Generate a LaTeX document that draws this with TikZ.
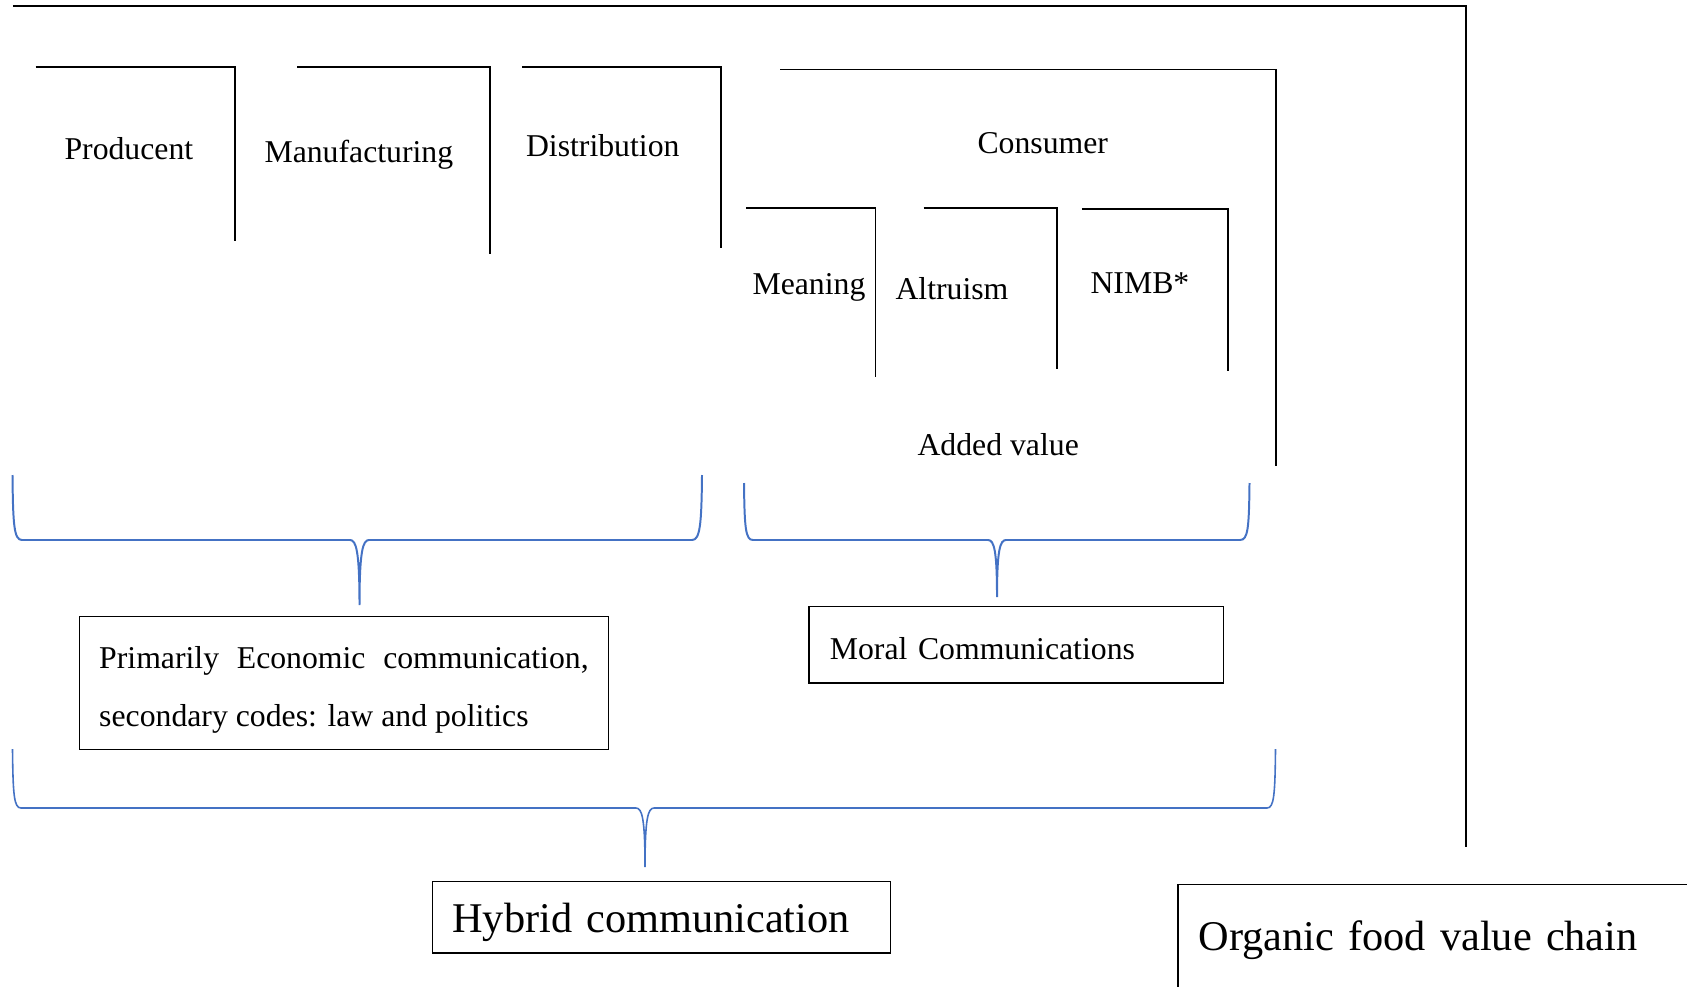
\documentclass[tikz,border=0pt]{standalone}
\usepackage{fontspec}
\setmainfont{Liberation Serif}
\usepackage{xcolor}
\usepackage{tikz}
\definecolor{klammeblaa}{HTML}{4472C4}
\hbadness=10000

\begin{document}
\begin{tikzpicture}[x=0.378pt, y=-0.378pt,
    lbl/.style={inner sep=0pt, anchor=base west, font=\fontsize{12}{14}\selectfont},
    box/.style={draw, line width=0.5pt, anchor=north west, inner ysep=0pt, align=left, font=\fontsize{12}{21.8}\selectfont},
    corner/.style={line width=0.65pt},
    brace/.style={line width=0.75pt, klammeblaa}]
    \clip (0,0) rectangle (1687,986);
    % outer frame of the chain
    \draw[line width=0.75pt] (12.8,6) -| (1466,847);
    % chain steps
    \node[lbl] (prod) at (64,159.3) {Producent};
    \node[lbl] (manu) at (264,162.3) {Manufacturing};
    \node[lbl] (distr) at (525.5,156.7) {Distribution};
    \node[lbl] (cons) at (977,153.3) {Consumer};
    \node[lbl] (mean) at (752,294.3) {Meaning};
    \node[lbl] (altr) at (895,299.3) {Altruism};
    \node[lbl] (nimb) at (1090,293.3) {NIMB*};
    \node[lbl] (added) at (917,455) {Added value};
    \draw[corner] (35.7,66.7) -| (234.7,240.7);
    \draw[corner] (297.4,66.7) -| (490,254);
    \draw[corner] (522,66.7) -| (721,248);
    \draw[corner] (780,69.5) -| (1276,466);
    \draw[corner] (746,207.7) -| (875.5,377.3);
    \draw[corner] (923.6,207.7) -| (1056.8,369.3);
    \draw[corner] (1081.8,209) -| (1228,370.7);
    % braces
    \draw[brace] (12.5,475) .. controls (13,525) and (14,540) .. (22,540) -- (350,540) .. controls (356,540) and (359.5,550) .. (359.5,605) .. controls (359.5,550) and (363,540) .. (369,540) -- (692,540) .. controls (700,540) and (701.5,525) .. (702,475);
    \draw[brace] (744,483) .. controls (744.5,528) and (745.5,540) .. (753,540) -- (988,540) .. controls (994,540) and (997,550) .. (997,597) .. controls (997,550) and (1000,540) .. (1006,540) -- (1240,540) .. controls (1248,540) and (1249,528) .. (1249.5,483);
    \draw[brace, line width=0.6pt] (12.5,749) .. controls (13,795) and (14,808) .. (21,808) -- (636,808) .. controls (642,808) and (645,818) .. (645,867) .. controls (645,818) and (648,808) .. (654,808) -- (1267,808) .. controls (1274,808) and (1275,795) .. (1275.5,749);
    % communication boxes
    \node[box, align=justify, inner xsep=7.4pt, text width=185pt, text height=19.8pt, text depth=30.6pt] (econ) at (79,615.7) {Primarily Economic communication, secondary codes: law and politics};
    \node[box, inner xsep=7.9pt, text width=141pt, text height=19.9pt, text depth=9.1pt] (moral) at (808.3,605.7) {Moral Communications};
    \node[box, inner xsep=7.45pt, text width=158.2pt, text height=19.2pt, text depth=7.7pt, font=\fontsize{16}{19}\selectfont] (hybrid) at (432,881) {Hybrid communication};
    \node[box, inner xsep=7.9pt, text width=181.7pt, text height=24.9pt, text depth=17.4pt, font=\fontsize{16}{19}\selectfont] (organic) at (1177.3,884) {Organic food value chain};
\end{tikzpicture}
\end{document}
